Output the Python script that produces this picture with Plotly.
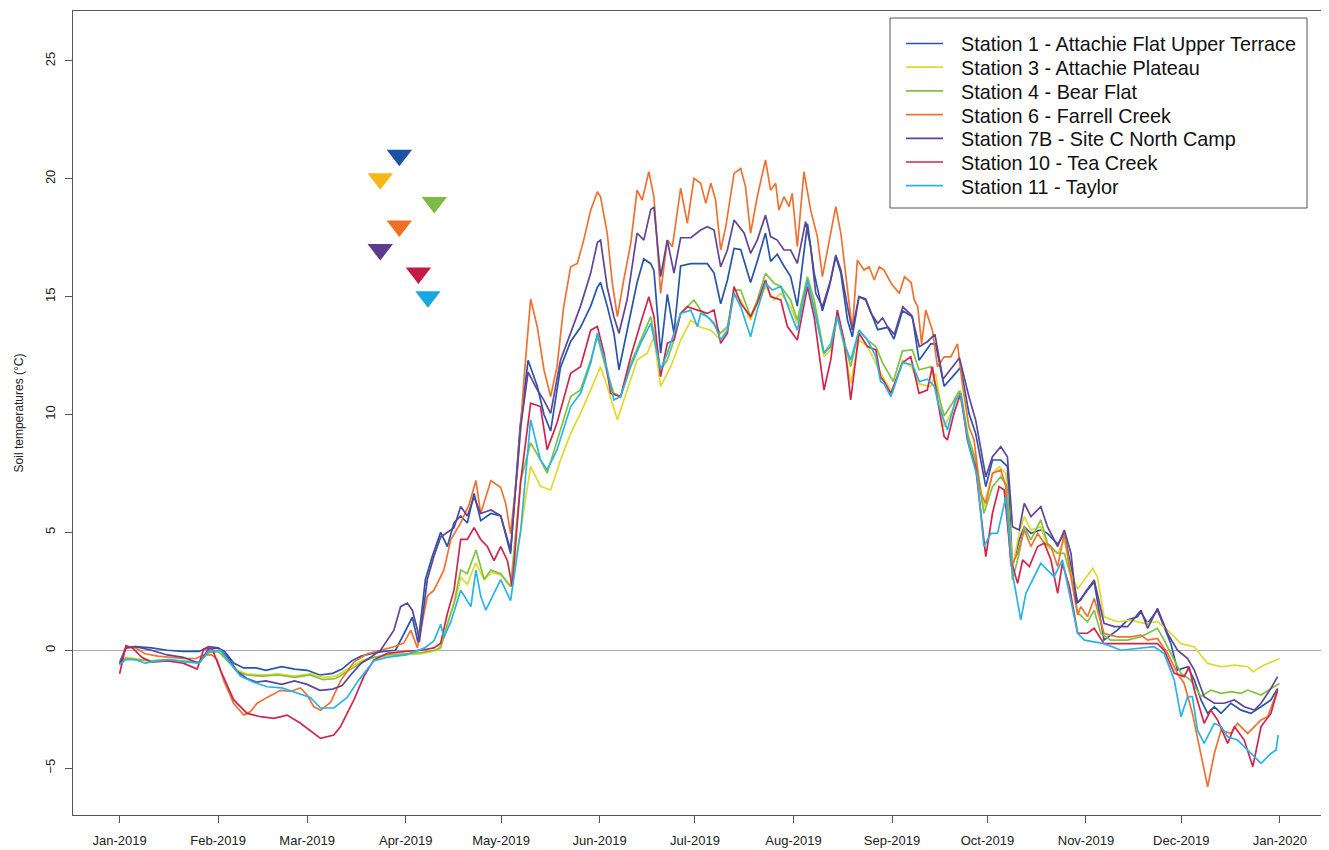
import pandas as pd
import plotly.graph_objects as go

# Daily soil temperatures 2019 (day 0 = 1 Jan 2019).
STATIONS = ['Station 1 - Attachie Flat Upper Terrace', 'Station 3 - Attachie Plateau',
            'Station 4 - Bear Flat', 'Station 6 - Farrell Creek',
            'Station 7B - Site C North Camp', 'Station 10 - Tea Creek', 'Station 11 - Taylor']
LINE_COLORS = ['#2756A8', '#E2D82C', '#80C242', '#EC7331', '#5F4597', '#D0264E', '#29B3E6']
MARK_COLORS = ['#1A52A5', '#F4B918', '#7EBB44', '#EE6F25', '#5B3C8F', '#C51A41', '#17A7E2']

ST1_DAY = [0, 2, 5, 10, 15, 20, 25, 28, 31, 33, 36, 39, 43, 46, 51, 55, 59, 63, 67, 70, 73, 76, 79, 83,
           86.8, 90, 92.1, 93.9, 96.2, 98.4, 101, 103.1, 105.2, 107.3, 109.4, 111.5, 113.6, 116.8, 119.9,
           123, 126, 128.5, 131.4, 133.5, 135.6, 138.7, 141.9, 145, 148.2, 150.3, 151.3, 153.4, 155.5,
           157.1, 159.7, 162.8, 164.9, 167.1, 168.1, 170.2, 172.3, 174.4, 176.5, 179.7, 182.8, 184.9, 187,
           189.1, 191.2, 193.3, 195.4, 198.5, 200.6, 203.2, 204.8, 206.9, 209, 211.1, 213.2, 216.4, 218.5,
           221.1, 223.2, 225.3, 226.9, 229, 230.5, 232.6, 234.7, 236.4, 238.5, 241.6, 243.6, 246.3, 249.4,
           251.5, 255.2, 256.7, 259.4, 262, 264.6, 267.2, 269.3, 272.5, 274.6, 277.2, 279.3, 280.9, 283,
           284.6, 286.7, 289.8, 291.9, 295.1, 297.2, 299.3, 301.4, 304.5, 306.6, 309.7, 313.9, 317.1,
           320.2, 321.3, 323.4, 326.5, 328.6, 330.7, 332.8, 336, 338.1, 340.2, 342.3, 344.4, 346.5, 349.6,
           352.8, 355.9, 359.1, 362.2, 364.3]
ST1_T = [-0.5, 0.1, 0.15, 0.1, 0.0, -0.05, -0.05, 0.15, 0.1, -0.05, -0.55, -0.75, -0.75, -0.85, -0.7, -0.8,
         -0.85, -1.05, -0.98, -0.8, -0.45, -0.25, -0.15, -0.05, 0.0, 0.85, 1.4, 0.3, 3.0, 4.0, 5.0, 4.4, 5.4,
         5.7, 5.4, 6.65, 5.5, 5.8, 5.7, 4.1, 9.5, 12.3, 11.2, 10.0, 9.3, 12.0, 13.1, 13.7, 14.6, 15.4, 15.6,
         14.6, 13.45, 11.9, 13.6, 15.6, 16.6, 16.4, 16.1, 12.6, 15.1, 13.45, 16.3, 16.4, 16.4, 16.4, 16.0,
         14.7, 15.7, 17.05, 17.0, 15.6, 16.5, 17.7, 16.5, 16.8, 16.3, 15.85, 14.6, 18.1, 16.0, 14.4, 15.4,
         16.7, 16.0, 14.0, 13.3, 15.0, 14.9, 14.3, 13.6, 13.7, 13.2, 14.4, 14.15, 12.3, 13.0, 13.0, 11.2,
         11.6, 12.0, 10.05, 9.2, 6.94, 8.07, 8.07, 7.8, 3.55, 4.68, 5.24, 4.96, 5.1, 4.96, 4.5, 4.96, 3.55,
         2.0, 2.56, 2.9, 0.43, 0.85, 1.28, 1.42, 1.63, 1.14, 1.7, 1.0, 0.29, -0.84, -0.7, -1.27, -2.11,
         -2.68, -2.4, -2.68, -2.25, -2.54, -2.68, -2.4, -2.11, -1.62]

ST3_DAY = [0, 2, 5, 10, 15, 20, 25, 28, 31, 34, 37, 40, 45, 50, 55, 60, 64, 68, 71, 74, 77, 80, 84, 90, 95,
           100, 102, 104, 106, 107.3, 109.4, 112, 114.7, 117, 119.9, 123, 126.2, 129.3, 132.4, 135.6, 138.7,
           141.9, 145, 148.2, 151.3, 153.4, 156.6, 159.7, 162.8, 166, 168.1, 170.2, 173.4, 176.5, 179.7,
           182.8, 186, 189.1, 191.2, 193.3, 195.4, 198.5, 200.6, 203.2, 205.9, 208, 211.1, 213.2, 216.4,
           218.5, 221.6, 223.7, 225.8, 227.9, 230, 232.6, 235.3, 237.9, 240.5, 243.2, 246.3, 249.2, 251.6,
           255.2, 256.7, 259.4, 262, 264.6, 267.2, 269.3, 271.9, 274.6, 276.7, 278.8, 280.9, 283, 284.6,
           286.7, 289.8, 291.9, 295.1, 297.2, 299.3, 301.4, 303.5, 306.1, 307.6, 309.7, 313.9, 318.1, 322.3,
           326.5, 329.7, 333.9, 338.1, 342.3, 346.5, 350.7, 354.9, 356.5, 360.1, 364.9]
ST3_T = [-0.5, -0.3, -0.35, -0.45, -0.4, -0.5, -0.5, -0.1, -0.05, -0.35, -0.85, -1.0, -1.05, -1.0, -1.1,
         -1.0, -1.15, -1.1, -0.85, -0.6, -0.4, -0.3, -0.25, -0.2, -0.15, 0.0, 0.5, 1.5, 2.3, 3.1, 2.8, 3.7,
         3.0, 3.3, 3.2, 2.7, 5.1, 7.8, 6.95, 6.8, 8.07, 9.2, 10.06, 11.04, 12.03, 11.19, 9.78, 11.04, 12.31,
         12.6, 13.3, 11.19, 12.03, 13.16, 14.0, 13.7, 13.58, 13.16, 13.58, 15.14, 14.86, 14.0, 14.72, 15.43,
         14.86, 15.14, 14.57, 13.87, 15.57, 14.57, 12.46, 12.74, 14.15, 12.88, 11.33, 13.16, 12.88, 12.17,
         11.5, 10.9, 12.31, 12.0, 11.3, 11.19, 11.75, 9.48, 10.19, 11.04, 8.92, 8.07, 6.09, 7.5, 7.79, 7.5,
         3.55, 4.96, 5.67, 5.1, 5.24, 4.4, 4.11, 4.68, 3.26, 2.6, 2.98, 3.48, 3.12, 1.42, 1.21, 1.28, 1.14,
         1.21, 0.85, 0.28, 0.14, -0.56, -0.7, -0.63, -0.7, -0.91, -0.63, -0.35]

ST4_DAY = [0, 2, 5, 10, 15, 20, 25, 28, 31, 34, 37, 40, 45, 50, 55, 60, 64, 68, 71, 74, 77, 80, 84, 90, 95,
           99, 101, 103.1, 105.2, 107.3, 109.4, 112.1, 114.7, 116.8, 119.9, 123, 126.2, 129.3, 132.4, 134.5,
           138.7, 141.9, 145, 148.2, 150.3, 153.4, 155.5, 157.6, 160.8, 163.9, 167.1, 170.2, 172.3, 174.4,
           176.5, 180.7, 182.8, 186, 189.1, 191.2, 193.3, 195.4, 198.5, 200.6, 203.2, 205.9, 208, 211.1,
           213.2, 216.4, 218.5, 221.6, 223.7, 225.8, 227.9, 230, 232.6, 235.3, 237.9, 240, 243.4, 246.3,
           249.4, 251.5, 255.2, 256.7, 259.4, 262, 264.1, 266.7, 269.3, 271.9, 274.6, 277.2, 279.3, 280.9,
           283, 284.6, 286.7, 289.8, 291.9, 295.1, 297.2, 299.3, 301.4, 304.5, 306.6, 308.7, 311.8, 317.1,
           321.3, 324.4, 326.5, 328.6, 331.8, 333.9, 337, 340.2, 343.3, 346.5, 349.6, 352.8, 354.9, 359.1,
           362.2, 364.9]
ST4_T = [-0.5, -0.35, -0.4, -0.45, -0.4, -0.45, -0.5, -0.1, -0.05, -0.45, -0.9, -1.05, -1.1, -1.05, -1.15,
         -1.05, -1.25, -1.2, -0.95, -0.7, -0.45, -0.3, -0.2, -0.15, -0.1, 0.0, 0.1, 1.1, 2.0, 3.4, 3.25, 4.25,
         3.0, 3.4, 3.25, 2.7, 7.2, 8.8, 8.07, 7.51, 9.35, 10.76, 11.04, 12.31, 13.3, 11.75, 10.9, 10.76,
         12.17, 13.16, 14.15, 11.9, 12.31, 13.16, 14.29, 14.86, 14.43, 14.0, 13.45, 13.73, 15.28, 15.28,
         14.15, 14.86, 15.99, 15.57, 15.43, 14.86, 14.0, 15.85, 14.86, 12.6, 13.02, 14.29, 13.16, 12.03,
         13.58, 13.16, 12.88, 12.2, 11.4, 12.7, 12.74, 11.9, 12.03, 11.3, 9.95, 10.48, 11.0, 9.2, 8.07, 5.81,
         6.94, 7.36, 6.94, 2.98, 4.11, 5.24, 4.68, 5.53, 4.54, 4.11, 4.11, 3.12, 1.6, 1.2, 1.7, 0.71, 0.43,
         0.43, 0.57, 0.78, 0.93, 0.43, -0.42, -0.98, -1.27, -1.97, -1.69, -1.83, -1.76, -1.83, -1.69, -1.9,
         -1.62, -1.41]

ST6_DAY = [0, 2, 5, 8, 12, 16, 20, 24, 26.5, 29, 30.7, 32.8, 35.9, 39.1, 41.2, 43.2, 46.4, 50.6, 53.7, 56.9,
           59, 61.1, 63.2, 66.4, 69.5, 73.7, 77.9, 82.1, 86.3, 89.4, 91.6, 93.7, 96.8, 98.9, 102, 104.2,
           107.3, 110, 112.1, 113.6, 116.8, 119.9, 121.5, 123, 125.1, 127.5, 129.3, 131.4, 133.5, 135.6,
           137.6, 139.7, 141.9, 144, 146, 148.2, 150.3, 151.3, 153.4, 155, 156.6, 158.6, 160.8, 162.8, 164.4,
           166.5, 168.1, 170.2, 172.3, 173.9, 176.5, 178.6, 180.7, 182.8, 184.4, 186, 187.5, 189.1, 190.7,
           193.3, 195.4, 196.9, 198.5, 200.6, 203.2, 204.8, 206.4, 207.4, 209, 210.6, 211.6, 213.2, 215.3,
           217.4, 219.5, 221.1, 223.2, 225.3, 226.9, 229, 230.5, 232.1, 234.2, 235.8, 237.4, 239, 240.5,
           242.7, 245.3, 246.9, 249, 250, 251.1, 252.3, 253.6, 255.7, 257.3, 259.4, 261.5, 263.6, 265.1,
           267.2, 268.8, 270.9, 272.5, 274.6, 277.2, 278.8, 280.4, 282.5, 284.6, 286.7, 288.8, 290.9, 293,
           295.1, 297.2, 299.3, 301.4, 302.4, 304.5, 306.6, 309.7, 313.9, 318.1, 321.3, 323.4, 326.5, 329.7,
           332.8, 334.9, 337.5, 339.6, 342.3, 344.4, 346.5, 349.6, 351.7, 354.9, 357, 359.1, 361.2, 364.3]
ST6_T = [-0.6, 0.15, 0.1, -0.15, -0.25, -0.3, -0.35, -0.35, -0.2, -0.2, -0.4, -1.3, -2.26, -2.75, -2.6,
         -2.26, -2.0, -1.7, -1.75, -1.6, -1.9, -2.4, -2.55, -2.2, -1.3, -0.5, -0.15, 0.0, 0.15, 0.3, 0.85,
         0.1, 2.3, 2.55, 3.4, 4.7, 5.4, 6.2, 7.2, 5.8, 7.2, 6.9, 6.2, 4.95, 7.6, 12.0, 14.9, 13.72, 11.9,
         10.76, 12.03, 14.57, 16.27, 16.41, 17.4, 18.67, 19.45, 19.24, 17.69, 15.57, 14.15, 15.71, 17.26,
         19.52, 19.1, 20.3, 19.24, 15.14, 17.4, 17.12, 19.6, 18.11, 20.02, 19.81, 18.96, 19.81, 19.1, 16.98,
         17.97, 20.23, 20.44, 19.67, 17.69, 19.24, 20.8, 19.52, 19.81, 18.67, 19.24, 18.82, 19.38, 17.12,
         20.3, 18.67, 17.55, 15.85, 17.26, 18.82, 17.69, 15.14, 13.58, 16.55, 16.13, 16.27, 15.71, 16.27,
         16.13, 15.57, 15.14, 15.85, 15.6, 14.86, 14.57, 13.0, 14.43, 13.58, 12.03, 12.45, 12.45, 13.0,
         11.32, 9.48, 8.92, 6.65, 6.23, 7.5, 7.65, 6.94, 3.55, 4.11, 5.1, 4.4, 4.96, 4.54, 4.4, 3.55, 4.96,
         3.12, 1.5, 1.85, 1.42, 2.2, 0.71, 0.57, 0.57, 0.64, 0.43, 0.5, -0.14, -0.98, -1.41, -2.68, -4.09,
         -5.79, -4.38, -3.39, -3.53, -3.1, -3.53, -3.24, -2.96, -2.82, -1.69]

ST7B_DAY = [0, 2, 5, 10, 15, 20, 25, 28, 31, 34, 37, 40, 43, 46, 51, 55, 59, 63, 67, 70, 73, 76, 79, 82.1,
            86.3, 88.4, 90.5, 92.1, 93.7, 94.3, 96.8, 98.9, 101, 103.1, 105.2, 107.3, 109.4, 111.5, 113.6,
            116.8, 119.9, 123, 126.2, 128.5, 129.3, 131.4, 133.5, 135.6, 138.7, 141.9, 145, 148.2, 150.3,
            151.3, 153.4, 155.5, 157.1, 159.7, 162.8, 164.9, 167.1, 168.1, 170.2, 172.3, 174.4, 176.5, 179.7,
            182.8, 184.9, 187, 189.1, 191.2, 193.3, 196.5, 198.5, 200.6, 203.2, 204.8, 206.9, 209, 211.1,
            213.2, 215.8, 217.4, 219, 221.1, 223.7, 225.3, 226.9, 229, 230.5, 232.6, 234.7, 236.4, 238.5,
            240, 241.6, 243.7, 246.4, 249.2, 251.6, 254.2, 256.5, 259, 262, 264.2, 267.2, 269.3, 272.5,
            274.6, 277.2, 279.3, 280.9, 283, 284.6, 286.7, 289.8, 291.9, 295.1, 297.2, 299.3, 301, 302.4,
            304, 306.6, 309.7, 312.9, 317.1, 321.3, 323.4, 326.5, 329.7, 332.8, 336, 338.1, 341.2, 344.4,
            347.5, 350.7, 353.8, 357, 359.1, 362.2, 364.3]
ST7B_T = [-0.6, 0.1, 0.15, 0.0, -0.2, -0.3, -0.55, 0.05, 0.1, -0.3, -0.9, -1.2, -1.35, -1.3, -1.45, -1.3,
          -1.45, -1.7, -1.65, -1.5, -1.0, -0.55, -0.3, 0.0, 0.85, 1.85, 2.0, 1.7, 0.85, 0.35, 3.0, 4.0, 4.8,
          5.0, 5.2, 6.1, 5.7, 6.5, 5.8, 5.95, 5.7, 4.25, 9.5, 11.8, 11.6, 11.05, 10.6, 10.05, 12.3, 13.45,
          14.6, 16.0, 17.3, 17.4, 15.4, 14.15, 13.45, 14.9, 17.7, 17.4, 18.7, 18.8, 15.85, 17.4, 16.0, 17.5,
          17.5, 17.83, 17.97, 17.83, 16.27, 16.98, 18.25, 17.69, 16.84, 17.4, 18.46, 17.55, 17.4, 16.98,
          16.98, 16.41, 18.18, 17.12, 15.14, 14.57, 15.71, 16.77, 16.13, 14.57, 13.58, 15.0, 14.86, 14.29,
          13.87, 14.1, 13.73, 13.4, 14.57, 14.2, 12.88, 13.1, 13.4, 11.5, 12.03, 12.4, 10.76, 9.77, 7.36,
          8.21, 8.64, 8.21, 5.24, 5.1, 6.23, 5.67, 6.09, 5.24, 4.4, 5.1, 4.11, 2.0, 2.13, 2.5, 2.98, 1.14,
          1.0, 1.0, 1.7, 0.93, 1.78, 0.71, 0.0, -0.35, -0.84, -1.97, -2.25, -2.25, -2.11, -2.4, -2.54,
          -2.25, -1.62, -1.12]

ST10_DAY = [0, 2, 4, 7, 10, 15, 20, 24.4, 26.5, 29, 31.7, 35.9, 40.1, 44.3, 48.5, 52.7, 56.9, 61.1, 63.2,
            67.4, 69.5, 73.7, 76.8, 80, 84.2, 90, 95, 98.9, 101, 103.1, 105.2, 107.3, 109.4, 111.5, 113.6,
            115.7, 117.8, 119.9, 122, 123.5, 126.2, 129.3, 132.4, 134.5, 137.6, 141.9, 145, 148.2, 150.3,
            152.4, 154.5, 157.6, 160.8, 163.9, 166.5, 168.1, 170.2, 172.3, 174.4, 176.5, 178.6, 181.8, 184.9,
            187, 189.1, 191.2, 193.3, 195.4, 198.5, 200.6, 203.2, 204.8, 208, 210.1, 213.2, 216.4, 218.5,
            221.6, 223.7, 225.8, 227.9, 230, 232.6, 235.3, 237.9, 239.4, 240.5, 242.6, 246.3, 248.9, 251.5,
            254.1, 255.7, 257.3, 259.4, 260.4, 262.5, 264.6, 266.7, 269.3, 270.9, 272.5, 274.6, 276.7, 278.3,
            280.4, 282.5, 284.1, 286.2, 288.8, 290.9, 293, 295.1, 296.6, 298.8, 301.4, 304.5, 306.6, 309.7,
            313.9, 318.1, 321.3, 326.5, 328.6, 331.8, 334.9, 336.5, 338.1, 341.2, 343.3, 345.4, 348.6, 350.7,
            353.8, 356.5, 359.1, 362.2, 364.3]
ST10_T = [-1.0, 0.2, 0.1, -0.3, -0.5, -0.45, -0.55, -0.8, 0.05, 0.1, -0.84, -2.11, -2.68, -2.82, -2.89,
          -2.75, -3.1, -3.53, -3.74, -3.6, -3.24, -2.11, -1.12, -0.41, -0.13, -0.05, 0.0, 0.1, 0.3, 1.55,
          2.55, 4.7, 4.7, 5.2, 4.7, 4.4, 3.8, 4.4, 3.8, 2.7, 7.2, 10.48, 10.34, 8.51, 9.64, 11.75, 12.03,
          13.58, 13.73, 12.6, 10.9, 10.76, 12.46, 13.87, 15.0, 14.15, 11.61, 13.02, 13.16, 14.29, 14.57,
          14.43, 14.29, 14.43, 13.02, 13.45, 15.43, 14.72, 14.15, 14.72, 15.71, 15.0, 14.86, 13.73, 13.16,
          15.43, 14.15, 11.04, 12.31, 14.43, 13.16, 10.62, 13.45, 12.88, 12.74, 11.6, 11.4, 10.9, 12.2,
          12.45, 10.9, 11.04, 12.03, 10.62, 9.06, 8.92, 10.05, 10.9, 8.92, 7.79, 5.81, 3.97, 5.81, 6.94,
          6.8, 3.83, 2.84, 3.83, 3.55, 4.4, 4.54, 3.83, 2.41, 3.69, 2.7, 0.72, 0.72, 0.93, 0.28, 0.28, 0.28,
          0.28, 0.28, 0.0, -0.98, -1.12, -0.7, -1.69, -3.1, -2.54, -2.96, -3.95, -3.24, -3.81, -4.94, -3.24,
          -2.68, -1.69]

ST11_DAY = [0, 2, 5, 8, 12, 16, 20, 25, 28, 31.7, 34, 38, 42, 46.4, 51, 56.9, 60, 63.2, 67.4, 71.6, 75, 80,
            84, 90, 96, 98.9, 101, 102, 104.2, 107.3, 110.5, 112.1, 113.6, 115.2, 117.8, 119.9, 123, 126.2,
            129.3, 132.4, 134.5, 137.6, 141.9, 145, 148.2, 150.3, 153.4, 155.5, 157.6, 160.8, 163.9, 167.1,
            170.2, 172.3, 174.4, 176.5, 179.7, 181.8, 182.8, 184.9, 187, 189.1, 191.2, 193.3, 195.4, 198.5,
            200.6, 203.2, 205.3, 208, 211.1, 213.2, 216.4, 218.5, 221.6, 223.7, 225.8, 227.9, 230, 232.6,
            235.3, 237.9, 239.4, 240.5, 242.6, 246.3, 249.5, 251.6, 254.2, 256.3, 257.8, 260.4, 263, 264.6,
            267.2, 269.8, 271.9, 274.1, 276.2, 278.8, 280.9, 283.5, 285.1, 287.2, 289.8, 291.9, 294, 296.6,
            298.8, 301.4, 303.5, 306.6, 309.7, 315, 320.2, 325.4, 328.6, 331.8, 333.9, 336, 337.5, 339.1,
            341.2, 344.4, 346.5, 348.6, 351.7, 354.9, 359.1, 362.2, 363.8, 364.5]
ST11_T = [-0.6, -0.4, -0.4, -0.55, -0.45, -0.4, -0.5, -0.55, -0.05, 0.0, -0.4, -1.1, -1.35, -1.55, -1.6,
          -1.85, -2.0, -2.45, -2.45, -2.0, -1.3, -0.45, -0.3, -0.2, 0.1, 0.4, 1.1, 0.55, 1.2, 2.55, 1.85, 3.4,
          2.3, 1.7, 2.4, 3.0, 2.1, 5.1, 9.78, 8.07, 7.65, 8.5, 10.34, 10.9, 12.17, 13.45, 11.9, 10.62, 10.76,
          12.03, 13.02, 13.87, 11.9, 12.6, 13.45, 14.29, 14.43, 13.73, 14.29, 14.15, 13.87, 13.16, 13.58,
          15.14, 14.57, 13.3, 14.43, 15.57, 15.28, 15.43, 14.29, 13.58, 15.71, 14.43, 12.6, 12.88, 14.15,
          13.02, 12.31, 13.58, 13.16, 12.46, 11.4, 11.3, 10.76, 12.2, 12.1, 11.4, 11.5, 11.2, 10.34, 9.34,
          10.62, 10.9, 8.64, 7.36, 4.4, 4.96, 4.96, 6.51, 3.26, 1.29, 2.41, 2.98, 3.69, 3.4, 3.12, 3.83,
          2.41, 0.72, 0.43, 0.36, 0.28, 0.0, 0.07, 0.15, -0.14, -1.27, -2.82, -1.97, -1.97, -3.39, -3.95,
          -3.1, -3.24, -3.67, -3.81, -4.24, -4.8, -4.38, -4.24, -3.6]

SERIES_DAYS = [ST1_DAY, ST3_DAY, ST4_DAY, ST6_DAY, ST7B_DAY, ST10_DAY, ST11_DAY]
SERIES_TEMPS = [ST1_T, ST3_T, ST4_T, ST6_T, ST7B_T, ST10_T, ST11_T]

# Thaw markers (triangles), one per station
MARK_DAY = [88, 82, 99, 88, 82, 94, 97]
MARK_T = [21, 20, 19, 18, 17, 16, 15]

MONTH_TICKS = pd.date_range('2019-01-01', '2020-01-01', freq='MS')
MONTH_LABELS = [d.strftime('%b-%Y') for d in MONTH_TICKS]

START = pd.Timestamp('2019-01-01')


def to_dates(days):
    return START + pd.to_timedelta(days, unit='D')


fig = go.Figure()

for name, days, temps, color in zip(STATIONS, SERIES_DAYS, SERIES_TEMPS, LINE_COLORS):
    fig.add_trace(go.Scatter(
        x=to_dates(days), y=temps, mode='lines', name=name,
        line=dict(color=color, width=1.7), showlegend=False
    ))

fig.add_trace(go.Scatter(
    x=to_dates(MARK_DAY), y=MARK_T, mode='markers', showlegend=False,
    marker=dict(symbol='triangle-down', size=22, color=MARK_COLORS, line=dict(width=0))
))

# The page body adds an 8px margin, so the figure is drawn 8px in from the window corner.
OFF = 8
W, H = 1329 - OFF, 850 - OFF
# Plot box edges as seen in the window (R style figure)
BOX_L, BOX_R, BOX_T, BOX_B = 73, 1323, 11, 815
L, T = BOX_L - OFF, BOX_T - OFF
R, B = W - (BOX_R - OFF), H - (BOX_B - OFF)
PW, PH = BOX_R - BOX_L, BOX_B - BOX_T


def px(x):
    return (x - BOX_L) / PW


def py(y):
    return 1 - (y - BOX_T) / PH


# Hand-made legend box, to get R's tight row spacing
shapes = [dict(type='rect', xref='paper', yref='paper', x0=px(890), x1=px(1307), y0=py(208), y1=py(18),
               line=dict(color='#555555', width=1), fillcolor='white', layer='above')]
annotations = []
for i, (name, color) in enumerate(zip(STATIONS, LINE_COLORS)):
    row = 43.5 + i * 23.7
    shapes.append(dict(type='line', xref='paper', yref='paper', x0=px(906), x1=px(943),
                       y0=py(row), y1=py(row), line=dict(color=color, width=1.7), layer='above'))
    annotations.append(dict(x=px(959), y=py(row + 1), xref='paper', yref='paper', text=name,
                            showarrow=False, xanchor='left', yanchor='middle',
                            font=dict(size=19.8, color='#111111')))

fig.update_layout(
    width=W, height=H,
    margin=dict(l=L, r=R, t=T, b=B, autoexpand=False),
    paper_bgcolor='white', plot_bgcolor='white',
    font=dict(family='Liberation Sans, Arial, sans-serif', color='#222222'),
    shapes=shapes, annotations=annotations,
    xaxis=dict(
        type='date', automargin=False,
        range=['2018-12-17 08:00', '2020-01-14 14:00'],
        tickvals=MONTH_TICKS, ticktext=MONTH_LABELS,
        ticks='outside', ticklen=7, tickcolor='#555555', tickwidth=1,
        showline=True, mirror=True, linecolor='#555555', linewidth=1,
        showgrid=False, zeroline=False,
        tickfont=dict(size=13, color='#222222'), ticklabelstandoff=6
    ),
    yaxis=dict(
        range=[-6.99, 27.12], automargin=False,
        tickvals=[-5, 0, 5, 10, 15, 20, 25],
        tickangle=-90,
        ticks='outside', ticklen=7, tickcolor='#555555', tickwidth=1,
        showline=True, mirror=True, linecolor='#555555', linewidth=1,
        showgrid=False,
        zeroline=True, zerolinecolor='#aaaaaa', zerolinewidth=1,
        tickfont=dict(size=13, color='#222222'), ticklabelstandoff=5,
        title=dict(text='Soil temperatures (°C)', font=dict(size=12, color='#222222'), standoff=16)
    ),
)

fig.write_html('out.html')
